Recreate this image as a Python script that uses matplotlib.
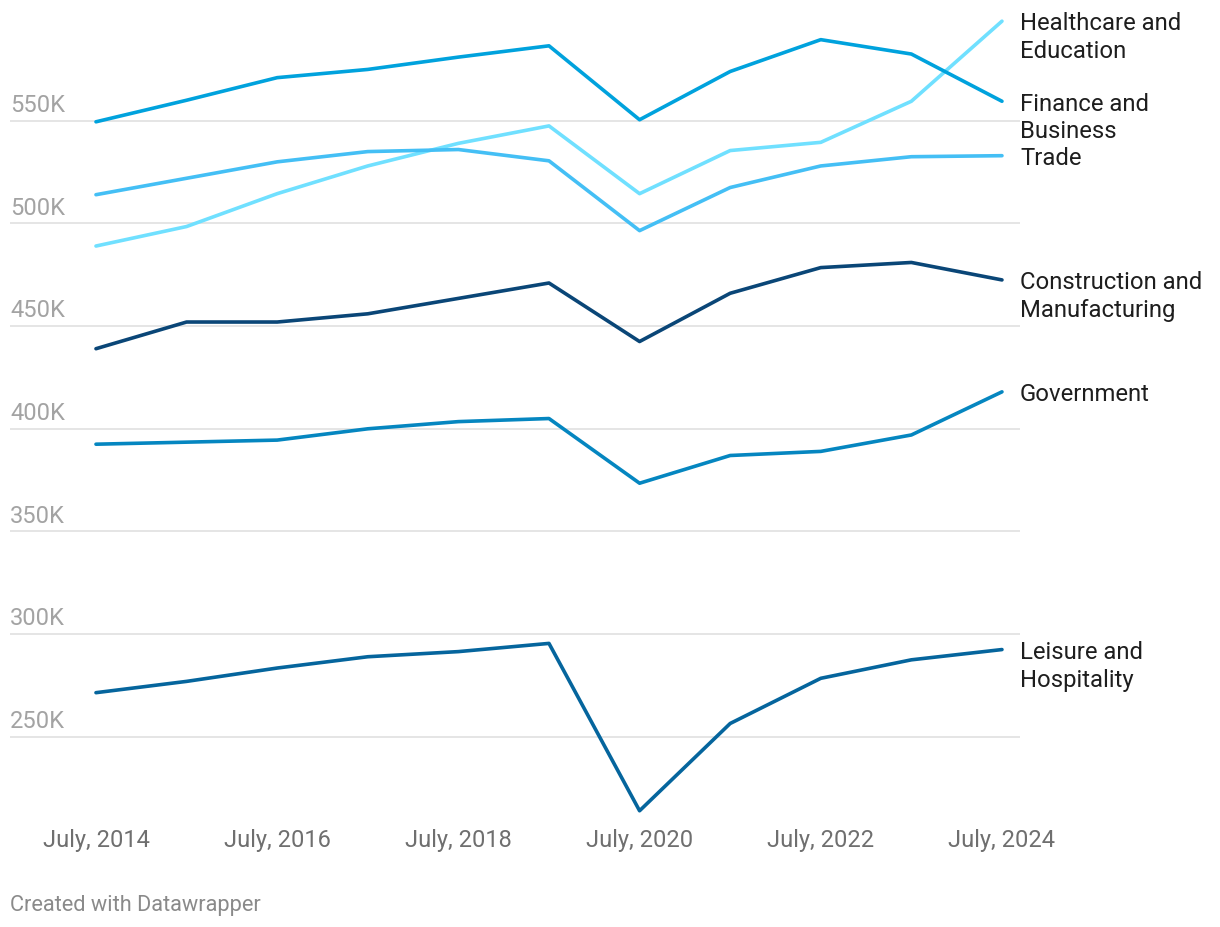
import matplotlib.pyplot as plt
import matplotlib.transforms as mtransforms

years = [2014, 2015, 2016, 2017, 2018, 2019, 2020, 2021, 2022, 2023, 2024]

# values in thousands of jobs
healthcare = [489, 498.5, 514.5, 528, 539, 547.5, 514.5, 535.5, 539.5, 559.5, 598.5]
finance = [549.5, 560, 571, 575, 581, 586.5, 550.5, 574, 589.5, 582.5, 559.5]
trade = [514, 522, 530, 535, 536, 530.5, 496.5, 517.5, 528, 532.5, 533]
construction = [439, 452, 452, 456, 463.5, 471, 442.5, 466, 478.5, 481, 472.5]
government = [392.5, 393.5, 394.5, 400, 403.5, 405, 373.5, 387, 389, 397, 418]
leisure = [271.5, 277, 283.5, 289, 291.5, 295.5, 214, 256.5, 278.5, 287.5, 292.5]

series = [
    ("Healthcare and\nEducation", healthcare, "#70e0ff"),
    ("Finance and\nBusiness", finance, "#00a2dd"),
    ("Trade", trade, "#44bff5"),
    ("Construction and\nManufacturing", construction, "#0a4677"),
    ("Government", government, "#0586c0"),
    ("Leisure and\nHospitality", leisure, "#05659d"),
]

y_ticks = [250, 300, 350, 400, 450, 500, 550]
x_ticks = [2014, 2016, 2018, 2020, 2022, 2024]

plt.rcParams['font.family'] = ['Roboto', 'DejaVu Sans']

fig = plt.figure(figsize=(12.2, 9.28), dpi=100)
ax = fig.add_axes([10 / 1220, 107 / 928, 1010 / 1220, 821 / 928])
trans = mtransforms.blended_transform_factory(ax.transAxes, ax.transData)

for yt in y_ticks:
    ax.axhline(yt, color="#e3e3e3", lw=1.3, zorder=1)
    ax.annotate(f"{yt}K", xy=(0, yt), xycoords=trans, xytext=(0, 7), textcoords="offset points",
                ha="left", va="baseline", fontsize=17, color="#a3a3a3")

for name, vals, col in series:
    ax.plot(years, vals, color=col, lw=2.6, solid_capstyle="round", solid_joinstyle="round", zorder=3)
    ax.annotate(name, xy=(1, vals[-1]), xycoords=trans,
                xytext=(0, 7), textcoords="offset points", ha="left", va="top",
                fontsize=17.2, color="#1e1e1e", linespacing=1.27, annotation_clip=False)

ax.set_xlim(2013.051, 2024.199)
ax.set_ylim(209.5, 609.3)
ax.set_xticks(x_ticks)
ax.set_xticklabels([f"July, {y}" for y in x_ticks])
ax.tick_params(axis="x", length=0, pad=5.5, labelsize=17, labelcolor="#6f6f6f")
ax.set_yticks([])
for s in ax.spines.values():
    s.set_visible(False)

fig.text(10 / 1220, 1 - 906 / 928, "Created with Datawrapper", ha="left", va="center",
         fontsize=15.7, color="#8a8a8a")

fig.savefig("out.png", dpi=100, facecolor="white")
